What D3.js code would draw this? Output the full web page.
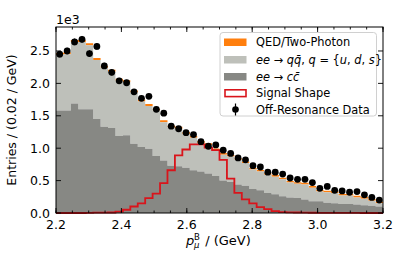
<!DOCTYPE html>
<html><head><meta charset="utf-8">
<script src="https://cdn.jsdelivr.net/npm/d3@7"></script>
<style>body{margin:0;background:#fff}svg{display:block}text{font-family:"DejaVu Sans",sans-serif;fill:#000}</style>
</head><body>
<svg id="c" width="407" height="271"></svg>
<script>
// ---- data (entries per bin, 44 bins from 2.2 to 3.2 GeV) ----
const xMin = 2.2, xMax = 3.2, nBins = 44;
const ccBkg = [1580,1580,1690,1600,1600,1450,1330,1310,1190,1200,1070,1020,990,880,810,730,720,700,660,640,610,570,500,480,440,420,370,350,310,290,260,240,230,210,180,180,160,150,140,140,130,120,110,100];
const qqBkg = [860,870,950,1040,990,910,910,870,850,820,790,700,660,700,590,590,580,520,500,440,440,400,400,390,380,350,300,290,280,270,260,230,220,230,210,150,160,160,130,130,110,100,80,50];
const qedBkg = [30,30,30,30,30,30,30,30,30,30,30,30,30,30,30,30,30,30,30,30,25,25,25,25,25,25,25,25,25,25,25,25,25,25,25,25,25,25,25,25,25,25,25,25];
const signal = [0,0,0,0,3,5,5,8,20,50,100,150,230,300,460,660,890,980,1060,1060,1010,970,820,530,310,210,150,90,60,30,15,10,8,5,4,3,2,2,1,1,1,0,0,0];
const offRes = [2450,2500,2640,2680,2460,2570,2270,2170,2040,2010,1870,1770,1800,1600,1540,1340,1300,1240,1210,1100,1030,1050,970,920,850,820,730,710,630,630,600,540,520,520,470,380,410,350,340,320,330,280,240,200];
const xTicks = [2.2,2.4,2.6,2.8,3.0,3.2];
const yTicks = [0,500,1000,1500,2000,2500];
const legendLabels = ["QED/Two-Photon","qq","cc","Signal Shape","Off-Resonance Data"];

const colors = {qed:"#ff7f0e", qq:"#bec0ba", cc:"#878884", sig:"#d9141b"};
const svg = d3.select("#c");
const L=56,R=383,T=27,B=213;
const x = d3.scaleLinear().domain([xMin,xMax]).range([L,R]);
const y = d3.scaleLinear().domain([0,2870]).range([B,T]);
const w = (xMax-xMin)/nBins;
const edge = i => xMin + i*w;

// stacked step areas
function stepPts(lo, hi){
  const pts=[];
  for(let i=0;i<nBins;i++){
    pts.push({x:edge(i),y0:lo[i],y1:hi[i]});
    pts.push({x:edge(i+1),y0:lo[i],y1:hi[i]});
  }
  return pts;
}
const zeros = ccBkg.map(()=>0);
const s1 = ccBkg.slice();
const s2 = ccBkg.map((v,i)=>v+qqBkg[i]);
const s3 = s2.map((v,i)=>v+qedBkg[i]);
const area = d3.area().x(d=>x(d.x)).y0(d=>y(d.y0)).y1(d=>y(d.y1));
const g = svg.append("g");
g.append("path").attr("d",area(stepPts(s2,s3))).attr("fill",colors.qed);
g.append("path").attr("d",area(stepPts(s1,s2))).attr("fill",colors.qq);
g.append("path").attr("d",area(stepPts(zeros,s1))).attr("fill",colors.cc);

// signal step outline
const sp=[{x:xMin,y:0}];
signal.forEach((v,i)=>{sp.push({x:edge(i),y:v});sp.push({x:edge(i+1),y:v});});
sp.push({x:xMax,y:0});
g.append("path").attr("d",d3.line().x(d=>x(d.x)).y(d=>y(d.y))(sp))
 .attr("fill","none").attr("stroke",colors.sig).attr("stroke-width",1.8);

// data points
const pts = offRes.map((v,i)=>({x:edge(i)+w/2,v}));
g.selectAll("line.err").data(pts).join("line").attr("class","err")
 .attr("x1",d=>x(d.x)).attr("x2",d=>x(d.x))
 .attr("y1",d=>y(d.v-Math.sqrt(d.v))).attr("y2",d=>y(d.v+Math.sqrt(d.v)))
 .attr("stroke","#000").attr("stroke-width",1);
g.selectAll("circle").data(pts).join("circle")
 .attr("cx",d=>x(d.x)).attr("cy",d=>y(d.v)).attr("r",3.4).attr("fill","#000");

// frame & ticks
svg.append("rect").attr("x",L).attr("y",T).attr("width",R-L).attr("height",B-T)
 .attr("fill","none").attr("stroke","#000").attr("stroke-width",1);
const tk = svg.append("g").attr("stroke","#000").attr("stroke-width",0.9);
const minorX = d3.range(0,21).map(i=>xMin+i*0.05);
minorX.forEach(v=>{
  const px=x(v);
  tk.append("line").attr("x1",px).attr("x2",px).attr("y1",B).attr("y2",B-2.5);
  tk.append("line").attr("x1",px).attr("x2",px).attr("y1",T).attr("y2",T+2.5);
});
xTicks.forEach(v=>{
  const px=x(v);
  tk.append("line").attr("x1",px).attr("x2",px).attr("y1",B).attr("y2",B-5);
  tk.append("line").attr("x1",px).attr("x2",px).attr("y1",T).attr("y2",T+5);
  svg.append("text").attr("x",px).attr("y",228.5).attr("text-anchor","middle")
   .attr("font-size",12.5).text(v.toFixed(1));
});
yTicks.forEach(v=>{
  const py=y(v);
  tk.append("line").attr("x1",L).attr("x2",L+5).attr("y1",py).attr("y2",py);
  tk.append("line").attr("x1",R).attr("x2",R-5).attr("y1",py).attr("y2",py);
  svg.append("text").attr("x",50).attr("y",py+4.5).attr("text-anchor","end")
   .attr("font-size",12.5).text((v/1000).toFixed(1));
});
svg.append("text").attr("x",56).attr("y",24).attr("font-size",12.5).text("1e3");

// axis labels
svg.append("text").attr("transform","translate(16,120) rotate(-90)")
 .attr("text-anchor","middle").attr("font-size",12.5).text("Entries / (0.02 / GeV)");
const xl = svg.append("g").attr("transform","translate(186,245)");
xl.append("text").attr("x",0).attr("y",0).attr("font-size",13).attr("font-style","italic").text("p");
xl.append("text").attr("x",8).attr("y",-5.5).attr("font-size",8.5).text("B");
xl.append("text").attr("x",8).attr("y",3).attr("font-size",8.5).attr("font-style","italic").text("μ");
xl.append("text").attr("x",15).attr("y",0).attr("font-size",13).text("\u00a0/ (GeV)");

// legend
const lg = svg.append("g");
lg.append("rect").attr("x",220).attr("y",32.5).attr("width",156.5).attr("height",83.5).attr("rx",3)
 .attr("fill","#fff").attr("fill-opacity",0.8).attr("stroke","#d0d0d0").attr("stroke-width",1);
const rowY = [42,59.5,76.5,93,109.5];
const fills=[colors.qed,colors.qq,colors.cc];
fills.forEach((c,i)=>{
  lg.append("rect").attr("x",224).attr("y",rowY[i]-3.5).attr("width",22.5).attr("height",7.5).attr("fill",c);
});
lg.append("rect").attr("x",225).attr("y",rowY[3]-3.2).attr("width",21).attr("height",6.8)
 .attr("fill","#fff").attr("stroke",colors.sig).attr("stroke-width",1.6);
lg.append("line").attr("x1",235.5).attr("x2",235.5).attr("y1",rowY[4]-6).attr("y2",rowY[4]+6)
 .attr("stroke","#000").attr("stroke-width",1.2);
lg.append("circle").attr("cx",235.5).attr("cy",rowY[4]).attr("r",3.3).attr("fill","#000");
const fs=11.4;
function addText(i){return lg.append("text").attr("x",256).attr("y",rowY[i]+4.2).attr("font-size",fs);}
addText(0).text(legendLabels[0]);
const t1=addText(1);
t1.append("tspan").attr("font-style","italic").text("ee");
t1.append("tspan").text("\u00a0→\u00a0");
t1.append("tspan").attr("font-style","italic").text("q\u0071\u0304");
t1.append("tspan").text(",\u00a0");
t1.append("tspan").attr("font-style","italic").text("q");
t1.append("tspan").text("\u00a0=\u00a0{");
t1.append("tspan").attr("font-style","italic").text("u");
t1.append("tspan").text(",\u00a0");
t1.append("tspan").attr("font-style","italic").text("d");
t1.append("tspan").text(",\u00a0");
t1.append("tspan").attr("font-style","italic").text("s");
t1.append("tspan").text("}");
const t2=addText(2);
t2.append("tspan").attr("font-style","italic").text("ee");
t2.append("tspan").text("\u00a0→\u00a0");
t2.append("tspan").attr("font-style","italic").text("c\u0063\u0304");
addText(3).text(legendLabels[3]);
addText(4).text(legendLabels[4]);
</script>
</body></html>
